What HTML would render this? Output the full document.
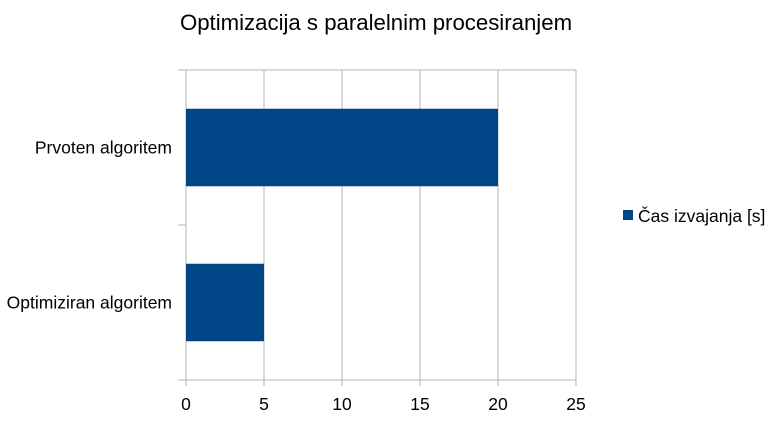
<!DOCTYPE html>
<html><head><meta charset="utf-8"><style>
body{margin:0;background:#fff;font-family:"Liberation Sans",sans-serif}
</style></head><body>
<svg width="775" height="419" xmlns="http://www.w3.org/2000/svg" id="c">
<text x="376" y="30" text-anchor="middle" font-size="22.2" fill="#000">Optimizacija s paralelnim procesiranjem</text>
<g id="plot"></g>
<rect x="623" y="210" width="10" height="10" fill="#004586"/>
<text x="638" y="222" font-size="17.5">Čas izvajanja [s]</text>
</svg>
<script>
const categories=["Prvoten algoritem","Optimiziran algoritem"];
const values=[20,5];
const ticks=[0,5,10,15,20,25];
const L=186,R=576,T=70,B=380,max=25;
const x=v=>L+(R-L)*v/max;
const g=document.getElementById('plot');
const ns="http://www.w3.org/2000/svg";
function mk(t,a){const e=document.createElementNS(ns,t);for(const k in a)e.setAttribute(k,a[k]);g.appendChild(e);return e;}
ticks.forEach(t=>{
 const l=mk('line',{x1:x(t),x2:x(t),y1:T,y2:B+6,stroke:'#b3b3b3','stroke-width':1});
 
 
 const tx=mk('text',{x:x(t),y:410,'text-anchor':'middle','font-size':17.5});
 tx.textContent=t;
 
 
});
const bandH=(B-T)/categories.length;
for(let i=0;i<=categories.length;i++){
 const l=mk('line',{x1:178,x2:L,y1:T+i*bandH,y2:T+i*bandH,stroke:'#b3b3b3','stroke-width':1});
 
 
}
mk('line',{x1:178,x2:R,y1:T,y2:T,stroke:'#b3b3b3'});
mk('line',{x1:178,x2:R,y1:B,y2:B,stroke:'#b3b3b3'});
categories.forEach((c,i)=>{
 const y0=T+i*bandH, bh=bandH*0.5, by=y0+bandH*0.25;
 const r=mk('rect',{x:L,y:by,width:x(values[i])-L,height:bh,fill:'#004586'});
 
 
 const t=mk('text',{x:172,y:y0+bandH/2+6,'text-anchor':'end','font-size':17.5});
 t.textContent=c;
 
 
});
</script>
</body></html>
